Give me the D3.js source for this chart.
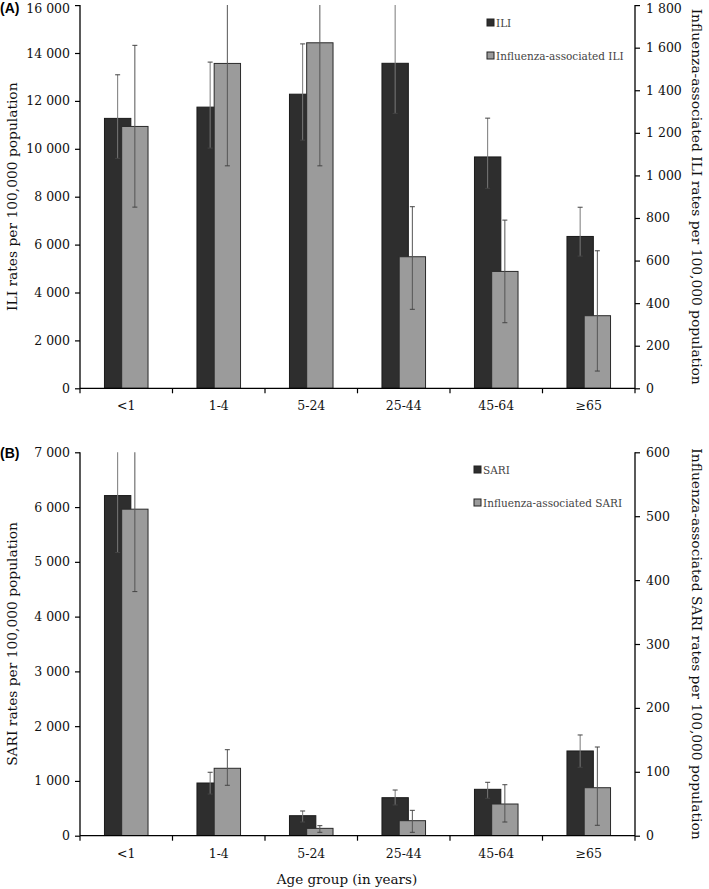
<!DOCTYPE html>
<html><head><meta charset="utf-8">
<script src="https://cdnjs.cloudflare.com/ajax/libs/d3/7.8.5/d3.min.js"></script>
<style>body{margin:0;background:#fff}svg{display:block}</style>
</head><body>
<script>
const categories = ["<1","1-4","5-24","25-44","45-64","≥65"];
// Panel A
const iliRate  = [11270, 11740, 12280, 13570, 9660, 6340];
const iliLow   = [9600, 10030, 10360, 11480, 8350, 5520];
const iliHigh  = [13090, 13620, 14380, 16100, 11280, 7560];
const fluIliRate = [1230, 1526, 1623, 618, 549, 341];
const fluIliLow  = [851, 1045, 1045, 371, 308, 81];
const fluIliHigh = [1611, 1900, 1900, 853, 790, 646];
const ticksA_left = [0,2000,4000,6000,8000,10000,12000,14000,16000];
const ticksA_right = [0,200,400,600,800,1000,1200,1400,1600,1800];
// Panel B
const sariRate = [6210, 962, 365, 694, 847, 1547];
const sariLow  = [5170, 761, 250, 561, 683, 1249];
const sariHigh = [7300, 1158, 451, 834, 975, 1839];
const fluSariRate = [511, 105.5, 11.5, 23.5, 49.6, 75.1];
const fluSariLow  = [382, 78.9, 5.3, 5.3, 21.4, 16.3];
const fluSariHigh = [640, 134.6, 15.7, 39.7, 79.8, 138.8];
const ticksB_left = [0,1000,2000,3000,4000,5000,6000,7000];
const ticksB_right = [0,100,200,300,400,500,600];

const W = 709, H = 889;
const svg = d3.select("body").append("svg").attr("width", W).attr("height", H);
const SERIF = "'DejaVu Serif', serif";
const fmt = v => d3.format(",")(v).replace(/,/g, " ");
const DARK = "#2e2e2e", LIGHT = "#9b9b9b";
const x0 = 80, x1 = 635;

function panel(o) {
  const x = d3.scaleBand().domain(categories).range([x0, x1]).paddingInner(0).paddingOuter(0);
  const yL = d3.scaleLinear().domain([0, o.maxL]).range([o.bottom, o.top]);
  const yR = d3.scaleLinear().domain([0, o.maxR]).range([o.bottom, o.top]);
  const g = svg.append("g");
  const clipId = "clip" + o.id;
  svg.append("clipPath").attr("id", clipId).append("rect")
    .attr("x", x0).attr("y", o.top).attr("width", x1 - x0).attr("height", o.bottom - o.top);
  const bw = x.bandwidth();
  const barW = bw * 0.285, off = bw * 0.093;
  const data = categories.map((c, i) => ({c, a: o.a[i], aL: o.aL[i], aH: o.aH[i], b: o.b[i], bL: o.bL[i], bH: o.bH[i]}));
  const cx = d => x(d.c) + bw / 2;
  const plot = g.append("g").attr("clip-path", `url(#${clipId})`);
  plot.selectAll(".da").data(data).join("rect")
    .attr("x", d => cx(d) - off - barW / 2).attr("width", barW)
    .attr("y", d => yL(d.a)).attr("height", d => yL(0) - yL(d.a))
    .attr("fill", DARK).attr("stroke", "#1a1a1a").attr("stroke-width", 1);
  const eb = (sel, xf, lo, hi, col) => {
    sel.append("line").attr("x1", xf).attr("x2", xf).attr("y1", lo).attr("y2", hi).attr("stroke", col).attr("stroke-width", 1);
    sel.append("line").attr("x1", d => xf(d) - 2.5).attr("x2", d => xf(d) + 2.5).attr("y1", lo).attr("y2", lo).attr("stroke", "#444").attr("stroke-width", 1);
    sel.append("line").attr("x1", d => xf(d) - 2.5).attr("x2", d => xf(d) + 2.5).attr("y1", hi).attr("y2", hi).attr("stroke", "#444").attr("stroke-width", 1);
  };
  const ge1 = plot.selectAll(".ea").data(data).join("g");
  eb(ge1, d => cx(d) - off, d => yL(d.aL), d => yL(d.aH), "#7a7a7a");
  plot.selectAll(".lb").data(data).join("rect")
    .attr("x", d => cx(d) + off - barW / 2).attr("width", barW)
    .attr("y", d => yR(d.b)).attr("height", d => yR(0) - yR(d.b))
    .attr("fill", LIGHT).attr("stroke", "#2a2a2a").attr("stroke-width", 1);
  const ge2 = plot.selectAll(".eb").data(data).join("g");
  eb(ge2, d => cx(d) + off, d => yR(d.bL), d => yR(d.bH), "#555");

  const axL = d3.axisLeft(yL).tickValues(o.ticksL).tickFormat(fmt).tickSize(5).tickPadding(5);
  const axR = d3.axisRight(yR).tickValues(o.ticksR).tickFormat(fmt).tickSize(5).tickPadding(6);
  const axB = d3.axisBottom(x).tickSize(0).tickPadding(13);
  const styleAx = sel => {
    sel.select(".domain").attr("stroke", "#000").attr("stroke-width", 1.3);
    sel.selectAll(".tick line").attr("stroke", "#000").attr("stroke-width", 1.2);
    sel.selectAll("text").attr("font-family", SERIF).attr("font-size", 12.5).attr("fill", "#111");
  };
  const nudgeTop = (sel, topVal) => {
    sel.selectAll(".tick").filter(d => d === topVal).select("text").attr("dy", o.topDy);
  };
  g.append("g").attr("transform", `translate(${x0},0)`).call(axL).call(styleAx)
    .call(s => s.select(".domain").attr("d", `M0,${o.top}V${o.bottom}`))
    .call(s => nudgeTop(s, o.maxL));
  g.append("g").attr("transform", `translate(${x1},0)`).call(axR).call(styleAx)
    .call(s => s.select(".domain").attr("d", `M0,${o.top}V${o.bottom}`))
    .call(s => nudgeTop(s, o.maxR));
  const gb = g.append("g").attr("transform", `translate(0,${o.bottom})`).call(axB).call(styleAx);
  gb.select(".domain").attr("d", `M${x0},0H${x1}`);
  gb.selectAll(".bt").data(d3.range(categories.length + 1)).join("line")
    .attr("x1", i => x0 + i * bw).attr("x2", i => x0 + i * bw)
    .attr("y1", 0).attr("y2", 5).attr("stroke", "#000").attr("stroke-width", 1.2);

  svg.append("text").attr("transform", `translate(17,${(o.top + o.bottom) / 2}) rotate(-90)`)
    .attr("text-anchor", "middle").attr("font-family", SERIF).attr("font-size", 13.8).attr("fill", "#111")
    .text(o.titleL);
  svg.append("text").attr("transform", `translate(692,${(o.top + o.bottom) / 2}) rotate(90)`)
    .attr("text-anchor", "middle").attr("font-family", SERIF).attr("font-size", 13.8).attr("fill", "#111")
    .text(o.titleR);
  svg.append("text").attr("x", 0).attr("y", o.labelY).attr("font-family", "'Liberation Sans', Arial, sans-serif")
    .attr("font-weight", "bold").attr("font-size", 14).text(o.label);
  const lg = svg.append("g").attr("transform", `translate(${o.legX},${o.legY})`);
  [[o.nameA, DARK], [o.nameB, LIGHT]].forEach((e, i) => {
    lg.append("rect").attr("x", 0).attr("y", i * o.legGap - 3.5).attr("width", 7).attr("height", 7)
      .attr("fill", e[1]).attr("stroke", "#222").attr("stroke-width", 1);
    lg.append("text").attr("x", 9).attr("y", i * o.legGap + 4).attr("font-family", SERIF)
      .attr("font-size", 10.5).attr("fill", "#444").text(e[0]);
  });
}

panel({id: "A", top: 5.1, bottom: 388.3, maxL: 16000, maxR: 1800, topDy: "0.6em", labelY: 13,
  a: iliRate, aL: iliLow, aH: iliHigh, b: fluIliRate, bL: fluIliLow, bH: fluIliHigh,
  ticksL: ticksA_left, ticksR: ticksA_right,
  titleL: "ILI rates per 100,000 population", titleR: "Influenza-associated ILI rates per 100,000 population",
  label: "(A)", nameA: "ILI", nameB: "Influenza-associated ILI", legX: 487, legY: 22.5, legGap: 33});
panel({id: "B", top: 452.3, bottom: 835.7, maxL: 7000, maxR: 600, topDy: "0.32em", labelY: 458,
  a: sariRate, aL: sariLow, aH: sariHigh, b: fluSariRate, bL: fluSariLow, bH: fluSariHigh,
  ticksL: ticksB_left, ticksR: ticksB_right,
  titleL: "SARI rates per 100,000 population", titleR: "Influenza-associated SARI rates per 100,000 population",
  label: "(B)", nameA: "SARI", nameB: "Influenza-associated SARI", legX: 474, legY: 469.5, legGap: 33});
svg.append("text").attr("x", 347).attr("y", 884).attr("text-anchor", "middle").attr("font-family", SERIF)
  .attr("font-size", 13.5).attr("fill", "#111").text("Age group (in years)");
</script>
</body></html>
